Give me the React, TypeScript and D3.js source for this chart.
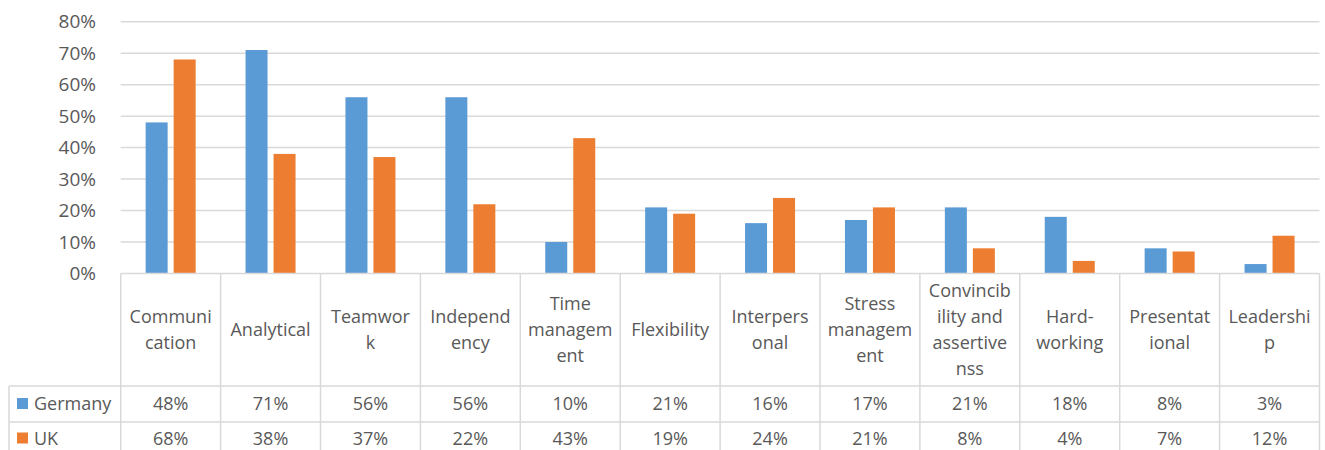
import React from "react";
import * as d3 from "d3";

// Skill categories (label lines as wrapped in the data table header)
const categories = [
  "Communication",
  "Analytical",
  "Teamwork",
  "Independency",
  "Time management",
  "Flexibility",
  "Interpersonal",
  "Stress management",
  "Convincibility and assertivenss",
  "Hard-working",
  "Presentational",
  "Leadership",
];
const categoryLines = [
  ["Communi", "cation"],
  ["Analytical"],
  ["Teamwor", "k"],
  ["Independ", "ency"],
  ["Time", "managem", "ent"],
  ["Flexibility"],
  ["Interpers", "onal"],
  ["Stress", "managem", "ent"],
  ["Convincib", "ility and", "assertive", "nss"],
  ["Hard-", "working"],
  ["Presentat", "ional"],
  ["Leadershi", "p"],
];
const seriesNames = ["Germany", "UK"];
const germany = [0.48, 0.71, 0.56, 0.56, 0.1, 0.21, 0.16, 0.17, 0.21, 0.18, 0.08, 0.03];
const uk = [0.68, 0.38, 0.37, 0.22, 0.43, 0.19, 0.24, 0.21, 0.08, 0.04, 0.07, 0.12];
const seriesColors = ["#5B9BD5", "#ED7D31"];
const yTicks = [0, 0.1, 0.2, 0.3, 0.4, 0.5, 0.6, 0.7, 0.8];

const W = 1325;
const H = 450;
const plotLeft = 120.7;
const plotRight = 1319.5;
const plotTop = 21.7;
const plotBottom = 273.5;
const catRowBottom = 386;
const row1Bottom = 422;
const row2Bottom = 458;
const tableLeft = 9;

const TEXT = "#595959";
const GRID = "#D9D9D9";
const FONT = "'Open Sans', sans-serif";

export default function App() {
  const values = [germany, uk];
  const x = d3.scaleBand<string>().domain(categories).range([plotLeft, plotRight]).padding(0);
  const bw = x.bandwidth();
  const x1 = d3
    .scaleBand<string>()
    .domain(seriesNames)
    .range([bw / 2 - 25, bw / 2 + 25])
    .paddingInner(0.2143)
    .paddingOuter(0);
  const y = d3.scaleLinear().domain([0, 0.8]).range([plotBottom, plotTop]);
  const fmt = d3.format(".0%");

  const lineH = 26;
  const catMid = (plotBottom + catRowBottom) / 2;
  const rowMids = [(plotBottom + 0.5 + catRowBottom) / 2, 0];
  rowMids[0] = (catRowBottom + row1Bottom) / 2;
  rowMids[1] = (row1Bottom + row2Bottom) / 2 - 1.5;

  return (
    <svg
      width={W}
      height={H}
      style={{ position: "fixed", left: 0, top: 0, background: "#fff" }}
      fontFamily={FONT}
    >
      {/* gridlines */}
      {yTicks.slice(1).map((t) => (
        <line key={t} x1={plotLeft} x2={plotRight} y1={y(t)} y2={y(t)} stroke={GRID} strokeWidth={1.5} />
      ))}
      {/* y tick labels */}
      {yTicks.map((t) => (
        <text
          key={t}
          x={96}
          y={y(t)}
          dy="0.35em"
          textAnchor="end"
          fontSize={19}
          fill={TEXT}
        >
          {fmt(t)}
        </text>
      ))}
      {/* bars */}
      {categories.map((c, i) =>
        seriesNames.map((s, j) => (
          <rect
            key={c + s}
            x={(x(c) as number) + (x1(s) as number)}
            y={y(values[j][i])}
            width={x1.bandwidth()}
            height={plotBottom - y(values[j][i])}
            fill={seriesColors[j]}
          />
        ))
      )}
      {/* data table grid */}
      <g stroke={GRID} strokeWidth={1.5} fill="none">
        <line x1={plotLeft} x2={plotRight} y1={plotBottom} y2={plotBottom} />
        <line x1={tableLeft} x2={plotRight} y1={catRowBottom} y2={catRowBottom} />
        <line x1={tableLeft} x2={plotRight} y1={row1Bottom} y2={row1Bottom} />
        <line x1={tableLeft} x2={plotRight} y1={row2Bottom} y2={row2Bottom} />
        <line x1={tableLeft} x2={tableLeft} y1={catRowBottom} y2={row2Bottom} />
        {categories.map((c) => (
          <line key={c} x1={x(c)} x2={x(c)} y1={plotBottom} y2={row2Bottom} />
        ))}
        <line x1={plotRight} x2={plotRight} y1={plotBottom} y2={row2Bottom} />
      </g>
      {/* category labels */}
      {categories.map((c, i) => {
        const lines = categoryLines[i];
        const start = catMid - ((lines.length - 1) * lineH) / 2;
        return (
          <text key={c} textAnchor="middle" fontSize={18} fill={TEXT}>
            {lines.map((l, k) => (
              <tspan key={k} x={(x(c) as number) + bw / 2} y={start + k * lineH} dy="0.35em">
                {l}
              </tspan>
            ))}
          </text>
        );
      })}
      {/* series rows */}
      {seriesNames.map((s, j) => (
        <g key={s}>
          <rect x={17} y={rowMids[j] - 6} width={11} height={11} fill={seriesColors[j]} />
          <text x={34} y={rowMids[j]} dy="0.35em" fontSize={18} fill={TEXT}>
            {s}
          </text>
          {categories.map((c, i) => (
            <text
              key={c}
              x={(x(c) as number) + bw / 2}
              y={rowMids[j]}
              dy="0.35em"
              textAnchor="middle"
              fontSize={18}
              fill={TEXT}
            >
              {fmt(values[j][i])}
            </text>
          ))}
        </g>
      ))}
    </svg>
  );
}
